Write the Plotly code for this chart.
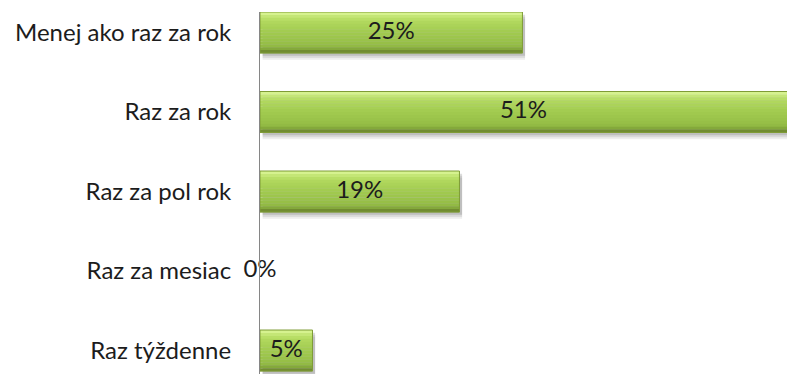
import plotly.graph_objects as go

# Survey answers (top to bottom) and share of respondents in percent
categories = ["Menej ako raz za rok", "Raz za rok", "Raz za pol rok", "Raz za mesiac", "Raz týždenne"]
shares = [25, 51, 19, 0, 5]
labels = [f"{v}%" for v in shares]

positions = list(range(len(categories)))
X_MAX = 50.2

# Styling: vertical gradient of the bar body, top to bottom
band_colors = ["#d6f28f", "#c4e676", "#b8de66", "#b0d75d", "#abd359", "#a7d055",
               "#a3cc51", "#a0c94e", "#9dc64c", "#9ac34a", "#97bf47", "#92ba44",
               "#84a93b", "#718c31"]
BAR_W = 0.516
band_w = BAR_W / len(band_colors)

fig = go.Figure()

# soft drop shadow beneath each bar
for dy, op in [(0.085, 0.10), (0.06, 0.14), (0.035, 0.20)]:
    fig.add_trace(go.Bar(
        y=positions, x=shares, base=[0.25] * len(shares), orientation="h",
        width=BAR_W, offset=-BAR_W / 2 + dy,
        marker=dict(color=f"rgba(90,90,90,{op})", line=dict(width=0)),
        hoverinfo="skip", showlegend=False,
    ))

# gradient bands of the bar body
for i, col in enumerate(band_colors):
    fig.add_trace(go.Bar(
        y=positions, x=shares, orientation="h",
        width=band_w * 1.08, offset=-BAR_W / 2 + i * band_w,
        marker=dict(color=col, line=dict(width=0)),
        hoverinfo="skip", showlegend=False,
    ))

# thin outline around each non-empty bar
fig.add_trace(go.Bar(
    y=positions, x=shares, orientation="h", width=BAR_W,
    marker=dict(color="rgba(0,0,0,0)",
                line=dict(color="#7f9c36", width=[1 if v > 0 else 0 for v in shares])),
    hoverinfo="skip", showlegend=False,
))

# value labels centred on the visible part of each bar
fig.add_trace(go.Scatter(
    y=positions, x=[min(v, X_MAX) / 2 for v in shares], mode="text", text=labels,
    textposition="middle center", cliponaxis=False,
    textfont=dict(family="Lato", size=24, color="#1c1c1c"),
    hoverinfo="skip", showlegend=False,
))

fig.update_layout(
    width=787, height=374,
    margin=dict(l=260, r=0, t=12, b=0),
    barmode="overlay",
    plot_bgcolor="white", paper_bgcolor="white",
    template="none",
    showlegend=False,
)
fig.update_xaxes(range=[0, X_MAX], showgrid=False, zeroline=False,
                 showticklabels=False, ticks="", showline=False)
fig.update_yaxes(range=[4.295, -0.258], tickmode="array", tickvals=positions,
                 ticktext=categories, showgrid=False, zeroline=False,
                 showline=True, linecolor="#868686", linewidth=1,
                 ticks="outside", ticklen=23, tickcolor="rgba(0,0,0,0)",
                 tickfont=dict(family="Lato", size=24, color="#1c1c1c"))

fig.write_html("out.html")
